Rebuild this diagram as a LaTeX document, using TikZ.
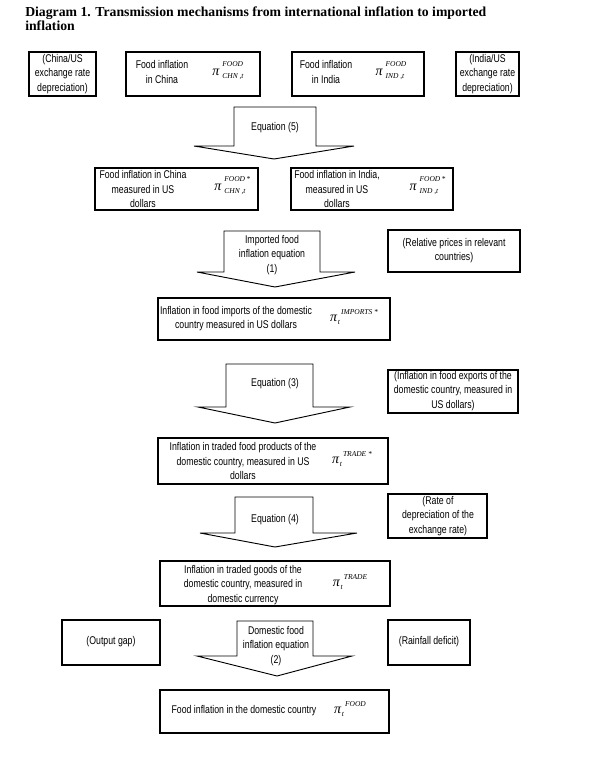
\documentclass[tikz,border=0pt]{standalone}
\usepackage{fontspec}
\setmainfont{Liberation Sans}[FakeStretch=0.78]
\newfontfamily\serif{Liberation Serif}
\newcommand\pisym{{\serif\itshape\fontsize{10.5pt}{10.5pt}\selectfont π}}
\newcommand\smit[1]{\hbox{\serif\itshape\fontsize{5.6pt}{5.6pt}\selectfont #1}}
\newcommand\ppi[2]{\pisym\kern2.2pt\raise6.6pt\hbox to 0pt{\smit{#1}\hss}\lower2.5pt\smit{#2}}
\newcommand\ppt[1]{\pisym\kern0.6pt\lower2.4pt\smit{t}\kern0.8pt\raise5.6pt\smit{#1}}
\tikzset{
  box/.style={draw=black, line width=1.1pt, fill=white},
  txt/.style={align=center, inner sep=0pt, font=\fontsize{8.4pt}{10.6pt}\selectfont},
  pilab/.style={inner sep=0pt},
  barrow/.style={draw=black, line width=0.7pt, fill=white},
}
\begin{document}
\begin{tikzpicture}[x=0.75pt,y=-0.75pt]
\useasboundingbox (0,0) rectangle (594,767);
% title
\node[anchor=base west, inner sep=0pt, align=left, font=\serif\bfseries\fontsize{10.3pt}{10.5pt}\selectfont] (title) at (25,31)
  {Diagram 1. Transmission mechanisms from international inflation to imported\\inflation};
% row 1
\path[box] (29,52) rectangle (96,96);
\node[txt] (a) at (62.5,74) {(China/US\\exchange rate\\depreciation)};
\path[box] (126,52) rectangle (260,96);
\node[txt] (b) at (162,72) {Food inflation\\in China};
\node[pilab] (bp) at (228,71) {\ppi{FOOD}{CHN ,t}};
\path[box] (292,52) rectangle (424,96);
\node[txt] (c) at (326,72) {Food inflation\\in India};
\node[pilab] (cp) at (390,71) {\ppi{FOOD}{IND ,t}};
\path[box] (456,52) rectangle (519,96);
\node[txt] (d) at (487.5,74) {(India/US\\exchange rate\\depreciation)};
% arrow eq 5
\path[barrow] (234,107) -- (316,107) -- (316,146) -- (354,146) -- (274,159) -- (194,146) -- (234,146) -- cycle;
\node[txt] (e5) at (275,128) {Equation (5)};
% row 2
\path[box] (95,168) rectangle (258,210);
\node[txt] (f) at (143,189) {Food inflation in China\\measured in US\\dollars};
\node[pilab] (fp) at (230,186) {\ppi{FOOD\,*}{CHN ,t}};
\path[box] (291,168) rectangle (453,210);
\node[txt] (g) at (337,189) {Food inflation in India,\\measured in US\\dollars};
\node[pilab] (gp) at (424,186) {\ppi{FOOD\,*}{IND ,t}};
% arrow eq 1
\path[barrow] (224,231) -- (320,231) -- (320,272) -- (355,272) -- (275,287) -- (197,272) -- (224,272) -- cycle;
\node[txt] (e1) at (272,255) {Imported food\\inflation equation\\(1)};
\path[box] (388,230) rectangle (520,272);
\node[txt] (h) at (454,251) {(Relative prices in relevant\\countries)};
% imports
\path[box] (158,298) rectangle (390,340);
\node[txt] (i) at (236,319) {Inflation in food imports of the domestic\\country measured in US dollars};
\node[pilab] (ip) at (354,317) {\ppt{IMPORTS *}};
% arrow eq 3
\path[barrow] (226,364) -- (313,364) -- (313,407) -- (350,407) -- (275,423) -- (198,407) -- (226,407) -- cycle;
\node[txt] (e3) at (275,384) {Equation (3)};
\path[box] (388,370) rectangle (518,413);
\node[txt] (j) at (453,391) {(Inflation in food exports of the\\domestic country, measured in\\US dollars)};
% trade *
\path[box] (158,438) rectangle (388,484);
\node[txt] (k) at (243,461) {Inflation in traded food products of the\\domestic country, measured in US\\dollars};
\node[pilab] (kp) at (352,459) {\ppt{TRADE *}};
% arrow eq 4
\path[barrow] (235,497) -- (313,497) -- (313,533) -- (357,533) -- (275,547) -- (200,533) -- (235,533) -- cycle;
\node[txt] (e4) at (275,520) {Equation (4)};
\path[box] (388,494) rectangle (487,538);
\node[txt] (l) at (438,516) {(Rate of\\depreciation of the\\exchange rate)};
% trade
\path[box] (160,561) rectangle (390,606);
\node[txt] (m) at (243,585) {Inflation in traded goods of the\\domestic country, measured in\\domestic currency};
\node[pilab] (mp) at (350,582) {\ppt{TRADE}};
% bottom row
\path[box] (62,620) rectangle (160,665);
\node[txt] (n) at (111,642) {(Output gap)};
\path[barrow] (237,621) -- (313,621) -- (313,656) -- (352,656) -- (277,676) -- (197,656) -- (237,656) -- cycle;
\node[txt] (e2) at (276,646) {Domestic food\\inflation equation\\(2)};
\path[box] (388,620) rectangle (470,665);
\node[txt] (o) at (429,642) {(Rainfall deficit)};
% final
\path[box] (160,690) rectangle (389,733);
\node[txt] (p) at (244,711) {Food inflation in the domestic country};
\node[pilab] (pp) at (350,709) {\ppt{FOOD}};
\end{tikzpicture}
\end{document}
